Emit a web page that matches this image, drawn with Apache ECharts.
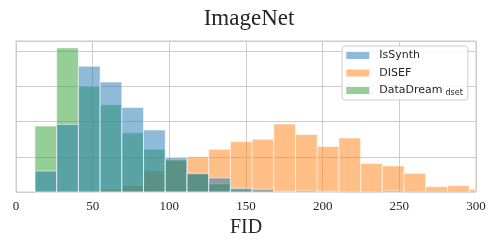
<!DOCTYPE html>
<html>
<head>
<meta charset="utf-8">
<script src="https://cdn.jsdelivr.net/npm/echarts@6/dist/echarts.min.js"></script>
<style>html,body{margin:0;padding:0;background:#fff;}#c{width:498px;height:249px;}</style>
</head>
<body>
<div id="c"></div>
<script>
// Histogram bins (FID), shared by all three series
const binStart = 12.37;
const binWidth = 14.16;
const binCount = 21;
// Heights (relative frequency units, grid lines every 10)
const isSynth   = [5.95, 19.2, 35.7, 31.2, 24.0, 17.6, 9.8, 5.3, 4.0, 1.05, 0.75, 0.2, 0.3, 0.2, 0, 0, 0.3, 0, 0, 0, 0];
const disef     = [0, 0, 0, 0.75, 1.8, 6.0, 9.0, 10.0, 12.1, 14.3, 15.0, 19.3, 16.3, 12.9, 15.3, 8.1, 7.4, 5.3, 1.5, 1.8, 0.75];
const dataDream = [18.7, 40.9, 30.0, 24.8, 16.8, 12.1, 9.1, 5.1, 2.35, 0.6, 0.3, 0, 0, 0, 0, 0, 0, 0, 0, 0, 0];
const xTicks = [0, 50, 100, 150, 200, 250, 300];
const seriesNames = ['IsSynth', 'DISEF', 'DataDream'];
const colors = {IsSynth: 'rgba(31,119,180,0.5)', DISEF: 'rgba(255,127,14,0.5)', DataDream: 'rgba(44,160,44,0.5)'};

const edges = [];
for (let k = 0; k <= binCount; k++) edges.push(binStart + k * binWidth);
function toData(vals) { return vals.map((v, i) => [edges[i], edges[i + 1], v]); }

function renderItem(params, api) {
  const p0 = api.coord([api.value(0), api.value(2)]);
  const p1 = api.coord([api.value(1), 0]);
  const rect = echarts.graphic.clipRectByRect(
    {x: p0[0], y: p0[1], width: p1[0] - p0[0], height: p1[1] - p0[1]},
    {x: params.coordSys.x, y: params.coordSys.y, width: params.coordSys.width, height: params.coordSys.height});
  if (!rect || api.value(2) <= 0) return;
  return {type: 'rect', shape: rect, style: {fill: api.visual('color'), stroke: 'rgba(255,255,255,0.55)', lineWidth: 1}};
}

function mkSeries(name, vals) {
  return {type: 'custom', name: name, renderItem: renderItem, data: toData(vals),
    itemStyle: {color: colors[name]}, encode: {x: [0, 1], y: 2}};
}

const chart = echarts.init(document.getElementById('c'), null, {renderer: 'canvas'});
chart.setOption({
  animation: false,
  title: {text: 'ImageNet', left: 'center', top: 7, padding: 0,
    textStyle: {fontFamily: 'Liberation Serif', fontSize: 23, fontWeight: 'normal', color: '#262626'}},
  grid: {left: 16, right: 22, top: 41, bottom: 57, show: true, borderColor: '#cccccc', borderWidth: 1},
  legend: {
    orient: 'vertical', left: 342, top: 46,
    data: seriesNames.map(n => ({name: n, itemStyle: {color: colors[n], borderWidth: 0}})),
    icon: 'rect', itemWidth: 23, itemHeight: 7, itemGap: 3.5,
    padding: [2.5, 5, 2.5, 4.3],
    backgroundColor: 'rgba(255,255,255,0.8)', borderColor: '#cccccc', borderWidth: 1, borderRadius: 3,
    formatter: n => n === 'DataDream' ? '{m|DataDream}{s|dset}' : n,
    textStyle: {fontFamily: 'DejaVu Sans', fontSize: 11, color: '#262626', lineHeight: 14, padding: [0, 0, 0, 5],
      rich: {m: {fontFamily: 'DejaVu Sans', fontSize: 11, color: '#262626', lineHeight: 14},
             s: {fontFamily: 'DejaVu Sans', fontSize: 8, color: '#262626', padding: [5, 0, 0, 3], lineHeight: 14}}}
  },
  xAxis: {type: 'value', min: xTicks[0], max: xTicks[xTicks.length - 1], interval: 50,
    name: 'FID', nameLocation: 'middle', nameGap: 21,
    nameTextStyle: {fontFamily: 'Liberation Serif', fontSize: 20, color: '#262626'},
    axisLine: {show: false}, axisTick: {show: false},
    axisLabel: {fontFamily: 'Liberation Serif', fontSize: 13, color: '#262626', margin: 8},
    splitLine: {show: true, lineStyle: {color: '#cccccc', width: 1}}},
  yAxis: {type: 'value', min: 0, max: 42.86, interval: 10,
    axisLine: {show: false}, axisTick: {show: false}, axisLabel: {show: false},
    splitLine: {show: true, lineStyle: {color: '#cccccc', width: 1}}},
  series: [mkSeries('DISEF', disef), mkSeries('DataDream', dataDream), mkSeries('IsSynth', isSynth)]
});
</script>
</body>
</html>
